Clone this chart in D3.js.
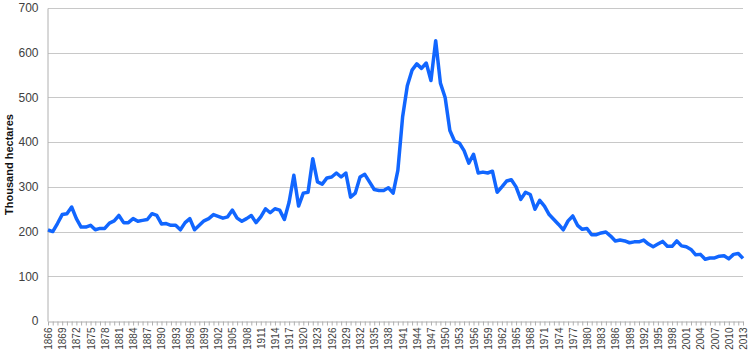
<!DOCTYPE html>
<html lang="en">
<head>
<meta charset="UTF-8">
<title>Thousand hectares</title>
<style>
    body, html { margin: 0; padding: 0; background: #fff; }
    svg { display: block; font-family: 'Liberation Sans', Arial, sans-serif; }
    .grid line { stroke: #c8c8c8; stroke-width: 1px; }
    .axis path, .axis line { stroke: #b0b0b0; }
    .axis text { fill: #404040; }
</style>
</head>
<body>
<svg width="754" height="353"></svg>
<script src="https://d3js.org/d3.v7.min.js"></script>
<script>
    const firstYear = 1866;
    const lastYear = 2013;
    const years = d3.range(firstYear, lastYear + 1);

    // thousand hectares, one value per year, 1866 - 2013
    const values = [
        204, 200, 218, 238, 240, 255, 229, 210, 210, 214,
        204, 207, 207, 219, 224, 236, 220, 220, 229, 223,
        225, 227, 240, 236, 217, 218, 214, 214, 204, 220,
        229, 204, 214, 224, 229, 238, 234, 230, 233, 248,
        230, 223, 229, 236, 220, 233, 251, 242, 251, 248,
        227, 266, 326, 257, 286, 288, 363, 311, 306, 320,
        322, 331, 322, 331, 277, 286, 322, 328, 311, 294,
        292, 292, 298, 286, 337, 456, 526, 561, 575, 565,
        577, 538, 627, 532, 500, 426, 402, 398, 381, 353,
        373, 331, 333, 331, 335, 288, 300, 313, 316, 300,
        272, 288, 283, 250, 270, 257, 238, 227, 216, 204,
        224, 235, 214, 205, 207, 193, 193, 197, 199, 190,
        179, 181, 179, 175, 177, 177, 181, 172, 166, 172,
        178, 167, 167, 179, 168, 166, 160, 148, 149, 138,
        141, 141, 145, 146, 139, 149, 151, 140
    ];
    const yTicks = [0, 100, 200, 300, 400, 500, 600, 700];
    const yLabel = "Thousand hectares";

    const data = years.map((y, i) => ({ year: y, value: values[i] }));

    const svg = d3.select("svg");
    const margin = { left: 48, right: 11, top: 8, bottom: 32 };
    const width = 754, height = 353;

    const x = d3.scaleLinear()
        .domain([firstYear, lastYear])
        .range([margin.left, width - margin.right]);
    const y = d3.scaleLinear()
        .domain([0, 700])
        .range([height - margin.bottom, margin.top]);

    // horizontal gridlines
    svg.append("g").attr("class", "grid")
        .selectAll("line")
        .data(yTicks.filter(d => d > 0))
        .enter().append("line")
        .attr("x1", margin.left).attr("x2", width - margin.right)
        .attr("y1", d => Math.round(y(d)) + 0.5).attr("y2", d => Math.round(y(d)) + 0.5);

    // y axis
    const yAxis = svg.append("g").attr("class", "axis")
        .attr("transform", `translate(${margin.left - 0.5},0)`)
        .call(d3.axisLeft(y).tickValues(yTicks).tickSize(0).tickPadding(9));
    yAxis.selectAll("text").style("font-size", "12px");

    // x axis, minor tick every year, label every third year
    const xAxis = svg.append("g").attr("class", "axis")
        .attr("transform", `translate(0,${Math.round(y(0)) + 0.5})`)
        .call(d3.axisBottom(x).tickValues(years).tickSize(4).tickSizeOuter(0)
            .tickFormat(d => (d - firstYear) % 3 === 0 || d === lastYear ? d : ""));
    xAxis.selectAll("text")
        .style("font-size", "10px")
        .attr("text-anchor", "end")
        .attr("transform", "rotate(-90)")
        .attr("x", -6)
        .attr("y", 0)
        .attr("dy", "0.35em");

    // axis title
    svg.append("text")
        .attr("transform", `translate(13,${(y(0) + y(700)) / 2}) rotate(-90)`)
        .attr("text-anchor", "middle")
        .style("font-size", "11px")
        .style("font-weight", "bold")
        .style("fill", "#111")
        .text(yLabel);

    // the series
    const line = d3.line()
        .x(d => x(d.year))
        .y(d => y(d.value));

    svg.append("path")
        .datum(data)
        .attr("fill", "none")
        .attr("stroke", "#1166ff")
        .attr("stroke-width", 3.5)
        .attr("stroke-linejoin", "round")
        .attr("d", line);
</script>
</body>
</html>
